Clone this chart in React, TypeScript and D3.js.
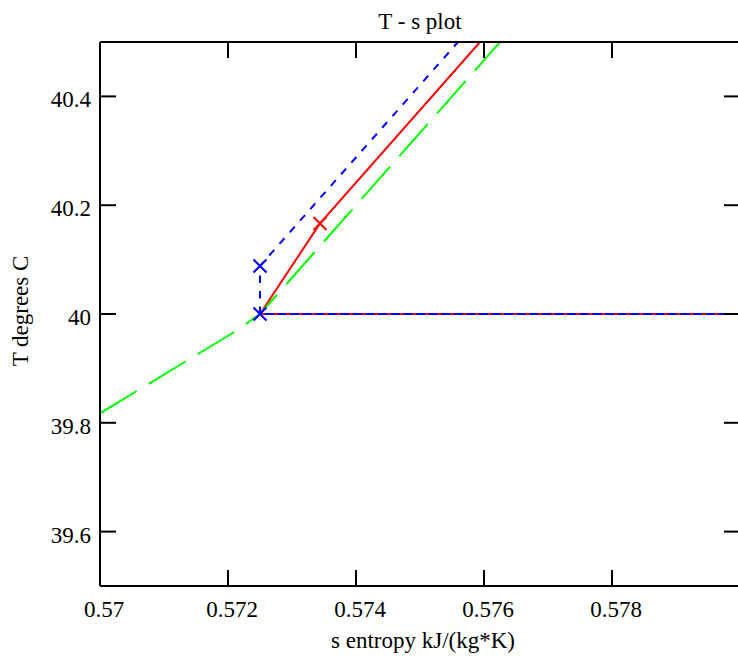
import React from "react";
import * as d3 from "d3";

const W = 738;
const H = 661;

// axis ticks
const xTicks = [0.57, 0.572, 0.574, 0.576, 0.578];
const xTickLabels = ["0.57", "0.572", "0.574", "0.576", "0.578"];
const yTicks = [39.6, 39.8, 40, 40.2, 40.4];
const yTickLabels = ["39.6", "39.8", "40", "40.2", "40.4"];

// red trace (solid)
const redS = [0.58, 0.5725, 0.573438, 0.575938];
const redT = [40.0, 40.0, 40.1665, 40.5];
const redMarkS = [0.573438];
const redMarkT = [40.1665];

// blue trace (short dashes)
const blueHS = [0.58, 0.5725];
const blueHT = [40.0, 40.0];
const blueS = [0.5725, 0.5725, 0.575594];
const blueT = [40.0, 40.0883, 40.5];
const blueMarkS = [0.5725, 0.5725];
const blueMarkT = [40.0, 40.0883];

// green trace (long dashes)
const greenS = [0.57, 0.5721, 0.5725, 0.57625];
const greenT = [39.8175, 39.967, 40.0, 40.5];

const FONT = '"Liberation Serif", Tinos, "Nimbus Roman", "DejaVu Serif", serif';

export default function App() {
  const left = 100, right = 740, top = 42, bottom = 586;
  const x = d3.scaleLinear().domain([0.57, 0.58]).range([left, right]);
  const y = d3.scaleLinear().domain([39.5, 40.5]).range([bottom, top]);

  const line = d3
    .line<[number, number]>()
    .x((d) => x(d[0]))
    .y((d) => y(d[1]));
  const zip = (a: number[], b: number[]) => a.map((v, i) => [v, b[i]] as [number, number]);

  const xMark = (cx: number, cy: number, r: number) =>
    `M${cx - r},${cy - r}L${cx + r},${cy + r}M${cx - r},${cy + r}L${cx + r},${cy - r}`;

  const tick = 16;
  const textStyle = { fontFamily: FONT, fontSize: "23px" } as React.CSSProperties;

  return (
    <svg
      width={W}
      height={H}
      style={{ position: "absolute", left: 0, top: 0, display: "block", background: "#fff" }}
    >
      <defs>
        <clipPath id="plotclip">
          <rect x={left} y={top} width={right - left} height={bottom - top} />
        </clipPath>
      </defs>
      <rect x={0} y={0} width={W} height={H} fill="#fff" />

      <g clipPath="url(#plotclip)" fill="none" strokeWidth={2}>
        <path d={line(zip(redS, redT)) || ""} stroke="#ff0000" />
        <path d={line(zip(blueHS, blueHT)) || ""} stroke="#0000ff" strokeDasharray="9,3.6" />
        <path d={line(zip(blueS, blueT)) || ""} stroke="#0000ff" strokeDasharray="7.5,8" />
        <path d={line(zip(greenS, greenT)) || ""} stroke="#00ff00" strokeDasharray="43,14" />
        {redMarkS.map((s, i) => (
          <path key={"r" + i} d={xMark(x(s), y(redMarkT[i]), 6.5)} stroke="#ff0000" />
        ))}
        {blueMarkS.map((s, i) => (
          <path key={"b" + i} d={xMark(x(s), y(blueMarkT[i]), 6.5)} stroke="#0000ff" />
        ))}
      </g>

      {/* frame */}
      <g stroke="#000" strokeWidth={2} fill="none">
        <line x1={left} y1={top} x2={right} y2={top} />
        <line x1={left} y1={bottom} x2={right} y2={bottom} />
        <line x1={left} y1={top} x2={left} y2={bottom} />
        <line x1={right} y1={top} x2={right} y2={bottom} />
        {xTicks.map((t, i) =>
          i === 0 ? null : (
            <g key={"xt" + i}>
              <line x1={x(t)} y1={bottom} x2={x(t)} y2={bottom - tick} />
              <line x1={x(t)} y1={top} x2={x(t)} y2={top + tick} />
            </g>
          )
        )}
        {yTicks.map((t, i) => (
          <g key={"yt" + i}>
            <line x1={left} y1={y(t)} x2={left + tick} y2={y(t)} />
            <line x1={right} y1={y(t)} x2={right - tick} y2={y(t)} />
          </g>
        ))}
      </g>

      <g fill="#000">
        {xTicks.map((t, i) => (
          <text key={"xl" + i} x={x(t) + 4} y={617} style={textStyle} textAnchor="middle">
            {xTickLabels[i]}
          </text>
        ))}
        {yTicks.map((t, i) => (
          <text key={"yl" + i} x={91} y={y(t) + 11} style={textStyle} textAnchor="end">
            {yTickLabels[i]}
          </text>
        ))}
        <text x={420} y={29} style={textStyle} textAnchor="middle">
          T - s plot
        </text>
        <text x={423} y={648} style={textStyle} textAnchor="middle">
          s entropy kJ/(kg*K)
        </text>
        <text transform={`translate(28,311) rotate(-90)`} style={textStyle} textAnchor="middle">
          T degrees C
        </text>
      </g>
    </svg>
  );
}
